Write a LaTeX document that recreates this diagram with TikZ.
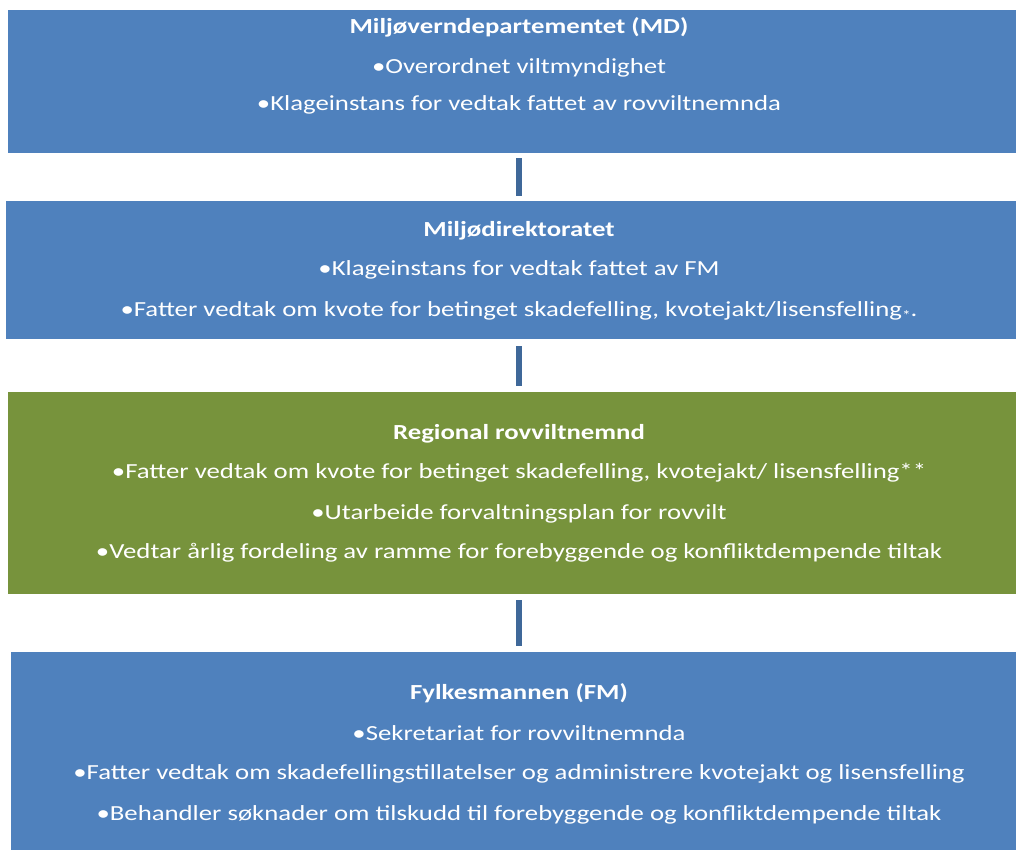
\documentclass[tikz,border=0pt]{standalone}
\usepackage{fontspec}
\setmainfont{Carlito}[FakeStretch=1.245]
\definecolor{boxblue}{HTML}{4F81BD}
\definecolor{boxgreen}{HTML}{77933C}
\definecolor{conncol}{HTML}{3F6899}
\begin{document}
\begin{tikzpicture}[x=1pt,y=-1pt,
  panel/.style={fill=boxblue, draw=none, inner sep=0pt, anchor=north west},
  greenpanel/.style={panel, fill=boxgreen},
  txt/.style={text=white, inner sep=0pt, anchor=center, font=\fontsize{21.5}{24}\selectfont},
  conn/.style={draw=conncol, line width=6pt, shorten >=5pt, shorten <=5pt}]
\useasboundingbox (0,0) rectangle (1016,850);
% boxes
\node[panel, minimum width=1008pt, minimum height=143pt] (b1) at (8,10) {};
\node[panel, minimum width=1010pt, minimum height=138pt] (b2) at (6,201) {};
\node[greenpanel, minimum width=1008pt, minimum height=202pt] (b3) at (8,392) {};
\node[panel, minimum width=1005pt, minimum height=198pt] (b4) at (11,652) {};
% box 1 text
\node[txt] (t1a) at (519,27) {\bfseries Miljøverndepartementet (MD)};
\node[txt] (t1b) at (519,68) {•Overordnet viltmyndighet};
\node[txt] (t1c) at (519,105) {•Klageinstans for vedtak fattet av rovviltnemnda};
% box 2 text
\node[txt] (t2a) at (519,231) {\bfseries Miljødirektoratet};
\node[txt] (t2b) at (519,270) {•Klageinstans for vedtak fattet av FM};
\node[txt] (t2c) at (519,311) {•Fatter vedtak om kvote for betinget skadefelling, kvotejakt/lisensfelling\raisebox{-4pt}{\fontsize{14}{14}\selectfont*}.};
% box 3 text
\node[txt] (t3a) at (519,434) {\bfseries Regional rovviltnemnd};
\node[txt] (t3b) at (519,473) {•Fatter vedtak om kvote for betinget skadefelling, kvotejakt/ lisensfelling**};
\node[txt] (t3c) at (519,514) {•Utarbeide forvaltningsplan for rovvilt};
\node[txt] (t3d) at (519,553) {•Vedtar årlig fordeling av ramme for forebyggende og konfliktdempende tiltak};
% box 4 text
\node[txt] (t4a) at (519,693) {\bfseries Fylkesmannen (FM)};
\node[txt] (t4b) at (519,733) {•Sekretariat for rovviltnemnda};
\node[txt] (t4c) at (519,774) {•Fatter vedtak om skadefellingstillatelser og administrere kvotejakt og lisensfelling};
\node[txt] (t4d) at (519,815) {•Behandler søknader om tilskudd til forebyggende og konfliktdempende tiltak};
% connectors
\draw[conn] (b1.south -| t1a) -- (b2.north -| t1a);
\draw[conn, shorten >=6pt, shorten <=7pt] (b2.south -| t1a) -- (b3.north -| t1a);
\draw[conn, shorten >=6pt, shorten <=6pt] (b3.south -| t1a) -- (b4.north -| t1a);
\end{tikzpicture}
\end{document}
